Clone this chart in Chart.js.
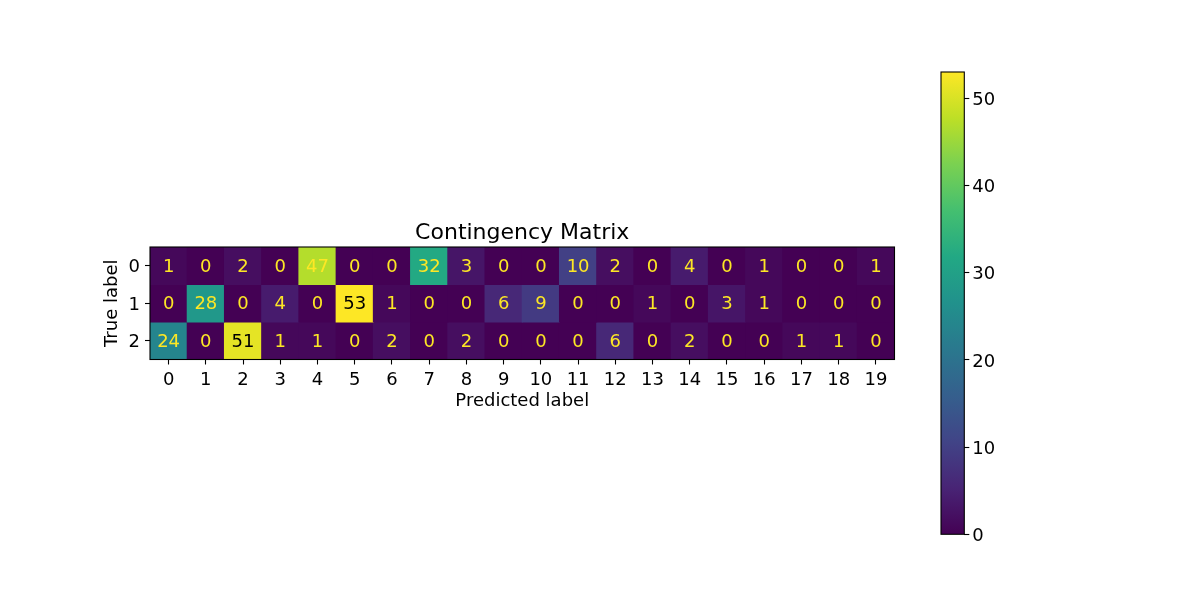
<!DOCTYPE html>
<html><head><meta charset="utf-8">
<script src="https://cdn.jsdelivr.net/npm/chart.js@4/dist/chart.umd.min.js"></script>
<style>
html,body{margin:0;padding:0;background:#fff;}
#wrap{position:relative;width:1200px;height:600px;background:#fff;}
canvas{position:absolute;left:0;top:0;}
</style></head><body>
<div id="wrap"><canvas id="hm" width="1200" height="600"></canvas><canvas id="cb" width="1200" height="600"></canvas></div>
<script>
// ---- data ----
const predictedLabels = ['0','1','2','3','4','5','6','7','8','9','10','11','12','13','14','15','16','17','18','19'];
const trueLabels = ['0','1','2'];
const row0 = [1,0,2,0,47,0,0,32,3,0,0,10,2,0,4,0,1,0,0,1];
const row1 = [0,28,0,4,0,53,1,0,0,6,9,0,0,1,0,3,1,0,0,0];
const row2 = [24,0,51,1,1,0,2,0,2,0,0,0,6,0,2,0,0,1,1,0];
const colorbarTicks = [0,10,20,30,40,50];
const colorMin = 0;
const colorMax = 53;
const chartTitle = 'Contingency Matrix';
const xTitle = 'Predicted label';
const yTitle = 'True label';

// ---- colormap (viridis) ----
const viridisStops = ['#440154','#482475','#414487','#355f8d','#2a788e','#21918c','#22a884','#44bf70','#7ad151','#bddf26','#fde725'];
function hex2rgb(h){return [parseInt(h.slice(1,3),16),parseInt(h.slice(3,5),16),parseInt(h.slice(5,7),16)];}
function viridis(t){
  t = Math.max(0, Math.min(1, t));
  const n = viridisStops.length - 1;
  const p = t * n;
  const i = Math.min(Math.floor(p), n - 1);
  const f = p - i;
  const a = hex2rgb(viridisStops[i]), b = hex2rgb(viridisStops[i+1]);
  const c = a.map((v,k)=>Math.round(v + (b[k]-v)*f));
  return 'rgb(' + c.join(',') + ')';
}

Chart.defaults.font.family = 'DejaVu Sans';
Chart.defaults.color = '#000';

const FS = 18;
const TFS = 22;
const rows = [row0, row1, row2];
// vertical-axis tick labels: two-line label with an empty first line and a 4px line height
// drops the visible text by 2px so it sits like matplotlib's center_baseline labels
const shiftedTickFont = { size: FS, lineHeight: '4px' };

const datasets = rows.map((vals, r) => ({
  label: trueLabels[r],
  data: vals.map(() => [r - 0.5, r + 0.5]),
  cellValues: vals,
  backgroundColor: vals.map(v => viridis((v - colorMin) / (colorMax - colorMin))),
  borderWidth: 0,
  barPercentage: 1,
  categoryPercentage: 1,
  grouped: false,
  inflateAmount: 0.5
}));

const cellTextPlugin = {
  id: 'cellText',
  afterDatasetsDraw(chart) {
    const ctx = chart.ctx;
    ctx.save();
    ctx.font = FS + 'px "DejaVu Sans"';
    ctx.textAlign = 'center';
    ctx.textBaseline = 'middle';
    chart.data.datasets.forEach((ds, di) => {
      const meta = chart.getDatasetMeta(di);
      meta.data.forEach((el, i) => {
        const v = ds.cellValues[i];
        const c = el.getCenterPoint();
        ctx.fillStyle = v > 49 ? '#000000' : '#fde725';
        ctx.fillText(String(v), c.x, c.y + 1.5);
      });
    });
    const a = chart.chartArea;
    ctx.strokeStyle = '#000';
    ctx.lineWidth = 1.1;
    ctx.strokeRect(a.left, a.top, a.right - a.left, a.bottom - a.top);
    ctx.font = TFS + 'px "DejaVu Sans"';
    ctx.fillStyle = '#000';
    ctx.textBaseline = 'alphabetic';
    ctx.fillText(chartTitle, (a.left + a.right) / 2, 238.5);
    ctx.restore();
  }
};

const tickGrid = {display:true, drawOnChartArea:false, drawTicks:true, tickLength:5, tickColor:'#000', tickWidth:1.1, offset:false};

new Chart(document.getElementById('hm'), {
  type: 'bar',
  data: { labels: predictedLabels, datasets },
  options: {
    responsive: false, animation: false, devicePixelRatio: 1,
    layout: { padding: { left: 0, top: 247, right: 1200 - 894.5, bottom: 180.5 } },
    plugins: { legend: { display: false }, tooltip: { enabled: false } },
    scales: {
      x: {
        type: 'category', offset: true,
        grid: tickGrid,
        border: { display: false },
        ticks: { color: '#000', font: { size: FS }, padding: 5, maxRotation: 0, autoSkip: false },
        title: { display: true, text: xTitle, color: '#000', font: { size: FS }, padding: { top: 0, bottom: 7.5 } },
        afterFit: s => { s.height = 60; }
      },
      y: {
        type: 'linear', min: -0.5, max: 2.5, reverse: true,
        afterBuildTicks: s => { s.ticks = trueLabels.map((_, i) => ({ value: i })); },
        grid: tickGrid,
        border: { display: false },
        ticks: { color: '#000', font: shiftedTickFont, padding: 5, callback: v => ['', trueLabels[v]] },
        title: { display: true, text: yTitle, color: '#000', font: { size: FS }, padding: { top: 101.3, bottom: 0 } },
        afterFit: s => { s.width = 150; }
      }
    }
  },
  plugins: [cellTextPlugin]
});

const cbBorderPlugin = {
  id: 'cbBorder',
  afterDatasetsDraw(chart) {
    const ctx = chart.ctx, a = chart.chartArea;
    ctx.save();
    ctx.strokeStyle = '#000';
    ctx.lineWidth = 1.1;
    ctx.strokeRect(a.left, a.top, a.right - a.left, a.bottom - a.top);
    ctx.restore();
  }
};

new Chart(document.getElementById('cb'), {
  type: 'bar',
  data: {
    labels: [''],
    datasets: [{
      data: [[colorMin, colorMax]],
      backgroundColor: c => {
        const { ctx, chartArea } = c.chart;
        if (!chartArea) return viridisStops[0];
        const g = ctx.createLinearGradient(0, chartArea.bottom, 0, chartArea.top);
        viridisStops.forEach((col, i) => g.addColorStop(i / (viridisStops.length - 1), col));
        return g;
      },
      borderWidth: 0, barPercentage: 1, categoryPercentage: 1
    }]
  },
  options: {
    responsive: false, animation: false, devicePixelRatio: 1,
    layout: { padding: { left: 941, top: 72, right: 0, bottom: 600 - 534.3 } },
    plugins: { legend: { display: false }, tooltip: { enabled: false } },
    scales: {
      x: { display: false, offset: true },
      y: {
        position: 'right', min: colorMin, max: colorMax,
        afterBuildTicks: s => { s.ticks = colorbarTicks.map(v => ({ value: v })); },
        grid: tickGrid,
        border: { display: false },
        ticks: { color: '#000', font: shiftedTickFont, padding: 3, callback: v => ['', String(v)] },
        afterFit: s => { s.width = 1200 - 964.3; }
      }
    }
  },
  plugins: [cbBorderPlugin]
});
</script>
</body></html>
